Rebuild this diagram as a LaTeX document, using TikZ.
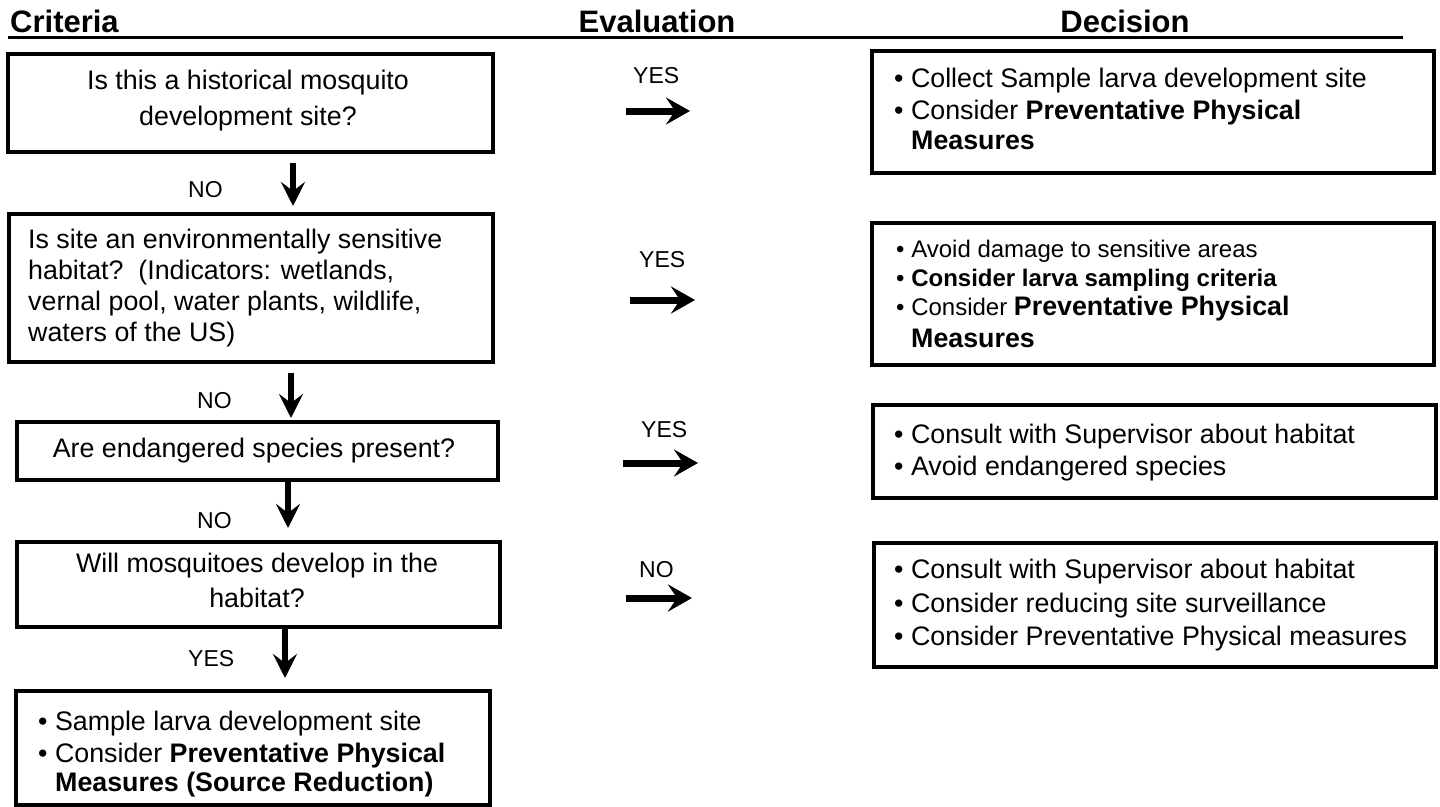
\documentclass[tikz,border=0pt]{standalone}
\usepackage{fontspec}
\setmainfont{Liberation Sans}
\usetikzlibrary{arrows.meta}
\begin{document}
\begin{tikzpicture}[x=1pt,y=-1pt,
  box/.style={draw, line width=4pt, inner sep=0pt, anchor=north west},
  txt/.style={inner sep=0pt, anchor=base, font=\fontsize{26.8}{32}\selectfont},
  txtl/.style={txt, anchor=base west},
  sml/.style={inner sep=0pt, anchor=base west, font=\fontsize{24}{28}\selectfont},
  lbl/.style={inner sep=0pt, anchor=base west, font=\fontsize{23}{27}\selectfont},
  hdr/.style={inner sep=0pt, font=\fontsize{31}{36}\selectfont\bfseries},
  harrow/.style={line width=7pt, -{Stealth[length=24pt,width=27pt,inset=9pt]}},
  varrow/.style={line width=6pt, -{Stealth[length=24pt,width=24pt,inset=9pt]}},
  rule/.style={line width=3pt}
]
\useasboundingbox (0,0) rectangle (1440,806);

% headers
\node[hdr, anchor=base west] (hc) at (10,32) {Criteria};
\node[hdr, anchor=base] (he) at (657,32) {Evaluation};
\node[hdr, anchor=base] (hd) at (1125,32) {Decision};
\coordinate (ul1) at (8,37);
\coordinate (ul2) at (1403,37);
\draw[rule] (ul1) -- (ul2);

% left boxes
\node[box, minimum width=485pt, minimum height=98pt]  (b1) at (6,52) {};
\node[box, minimum width=484pt, minimum height=148pt] (b2) at (7,212) {};
\node[box, minimum width=481pt, minimum height=58pt]  (b3) at (15,420) {};
\node[box, minimum width=483pt, minimum height=85pt]  (b4) at (15,540) {};
\node[box, minimum width=474pt, minimum height=114pt] (b5) at (14,689) {};

\node[txt] (t1a) at (248,89) {Is this a historical mosquito};
\node[txt] (t1b) at (248,125) {development site?};

\node[txtl] (t2a) at (28,248) {Is site an environmentally sensitive};
\node[txtl] (t2b) at (28,279) {habitat?\ \ (Indicators: wetlands,};
\node[txtl] (t2c) at (28,310) {vernal pool, water plants, wildlife,};
\node[txtl] (t2d) at (28,341) {waters of the US)};

\node[txt] (t3a) at (254,457) {Are endangered species present?};

\node[txt] (t4a) at (257,572) {Will mosquitoes develop in the};
\node[txt] (t4b) at (257,607) {habitat?};

\node[txtl] (t5a) at (38,730) {\textbullet\ Sample larva development site};
\node[txtl] (t5b) at (38,762) {\textbullet\ Consider \textbf{Preventative Physical}};
\node[txtl] (t5c) at (55,791) {\textbf{Measures (Source Reduction)}};

% left labels and arrows
\node[lbl] (n1) at (188,197) {NO};
\node[lbl] (n2) at (197,408) {NO};
\node[lbl] (n3) at (197,528) {NO};
\node[lbl] (y4) at (188,666) {YES};

\coordinate (v1s) at (293,163); \coordinate (v1e) at (293,206);
\coordinate (v2s) at (291,373); \coordinate (v2e) at (291,418);
\coordinate (v3s) at (288,481); \coordinate (v3e) at (288,528);
\coordinate (v4s) at (285,628); \coordinate (v4e) at (285,678);
\draw[varrow] (v1s) -- (v1e);
\draw[varrow] (v2s) -- (v2e);
\draw[varrow] (v3s) -- (v3e);
\draw[varrow] (v4s) -- (v4e);

% middle labels and arrows
\node[lbl] (m1) at (633,83) {YES};
\node[lbl] (m2) at (639,267) {YES};
\node[lbl] (m3) at (641,437) {YES};
\node[lbl] (m4) at (639,577) {NO};

\coordinate (h1s) at (626,111); \coordinate (h1e) at (690,111);
\coordinate (h2s) at (630,300); \coordinate (h2e) at (695,300);
\coordinate (h3s) at (623,463); \coordinate (h3e) at (698,463);
\coordinate (h4s) at (626,598); \coordinate (h4e) at (692,598);
\draw[harrow] (h1s) -- (h1e);
\draw[harrow] (h2s) -- (h2e);
\draw[harrow] (h3s) -- (h3e);
\draw[harrow] (h4s) -- (h4e);

% right boxes
\node[box, minimum width=562pt, minimum height=122pt] (r1) at (870,49) {};
\node[box, minimum width=562pt, minimum height=142pt] (r2) at (870,221) {};
\node[box, minimum width=563pt, minimum height=93pt]  (r3) at (871,403) {};
\node[box, minimum width=562pt, minimum height=124pt] (r4) at (872,541) {};

\node[txtl] (s1a) at (894,87) {\textbullet\ Collect Sample larva development site};
\node[txtl] (s1b) at (894,119) {\textbullet\ Consider \textbf{Preventative Physical}};
\node[txtl] (s1c) at (911,149) {\textbf{Measures}};

\node[sml] (s2a) at (896,257) {\textbullet\ Avoid damage to sensitive areas};
\node[sml] (s2b) at (896,286) {\textbullet\ \textbf{Consider larva sampling criteria}};
\node[txtl] (s2c) at (896,315) {{\fontsize{24}{28}\selectfont\textbullet\ Consider }\textbf{Preventative Physical}};
\node[txtl] (s2d) at (911,347) {\textbf{Measures}};

\node[txtl] (s3a) at (894,443) {\textbullet\ Consult with Supervisor about habitat};
\node[txtl] (s3b) at (894,475) {\textbullet\ Avoid endangered species};

\node[txtl] (s4a) at (894,578) {\textbullet\ Consult with Supervisor about habitat};
\node[txtl] (s4b) at (894,612) {\textbullet\ Consider reducing site surveillance};
\node[txtl] (s4c) at (894,645) {\textbullet\ Consider Preventative Physical measures};
\end{tikzpicture}
\end{document}
